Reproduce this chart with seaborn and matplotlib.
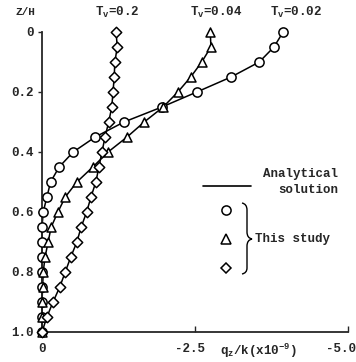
import numpy as np
import pandas as pd
import matplotlib
matplotlib.use("Agg")
import matplotlib.pyplot as plt
import matplotlib.transforms as mtransforms
import seaborn as sns
from matplotlib.path import Path
from matplotlib.patches import PathPatch

# ---- data ----
z_levels = [0.00, 0.05, 0.10, 0.15, 0.20, 0.25, 0.30, 0.35, 0.40, 0.45, 0.50,
            0.55, 0.60, 0.65, 0.70, 0.75, 0.80, 0.85, 0.90, 0.95, 1.00]
q_tv002 = [-3.94, -3.79, -3.55, -3.09, -2.53, -1.96, -1.34, -0.87, -0.51, -0.28, -0.14,
           -0.08, -0.02, 0.00, 0.00, 0.00, 0.00, 0.00, 0.00, 0.00, 0.00]
q_tv004 = [-2.75, -2.76, -2.61, -2.43, -2.22, -1.98, -1.67, -1.39, -1.08, -0.83, -0.57,
           -0.38, -0.26, -0.15, -0.10, -0.05, -0.02, -0.01, 0.00, 0.00, 0.00]
q_tv02 = [-1.21, -1.23, -1.19, -1.18, -1.16, -1.14, -1.09, -1.03, -0.98, -0.93, -0.88,
          -0.80, -0.73, -0.64, -0.57, -0.47, -0.38, -0.29, -0.18, -0.08, 0.00]
series_labels = ["T$_\\mathregular{v}$=0.02", "T$_\\mathregular{v}$=0.04", "T$_\\mathregular{v}$=0.2"]
x_ticks = [0, -2.5, -5.0]
x_tick_labels = ["0", "-2.5", "-5.0"]
y_ticks = [0, 0.2, 0.4, 0.6, 0.8, 1.0]
y_tick_labels = ["0", "0.2", "0.4", "0.6", "0.8", "1.0"]

sns.set_style("ticks")
plt.rcParams["font.family"] = ["Liberation Mono", "DejaVu Sans Mono"]
plt.rcParams["font.weight"] = "bold"
plt.rcParams["mathtext.default"] = "regular"

W, H = 356, 362
fig = plt.figure(figsize=(W / 100, H / 100), dpi=100)
ax = fig.add_axes([42 / W, 1 - 332 / H, (348 - 42) / W, (332 - 32) / H])

df = pd.DataFrame({
    "z": z_levels * 3,
    "q": q_tv002 + q_tv004 + q_tv02,
    "series": ["0.02"] * 21 + ["0.04"] * 21 + ["0.2"] * 21,
})
markers = {"0.02": "o", "0.04": "^", "0.2": "D"}
msize = {"0.02": 44, "0.04": 42, "0.2": 28}

for s, g in df.groupby("series", sort=False):
    sns.lineplot(data=g, x="q", y="z", sort=False, estimator=None, color="black",
                 lw=1.1, ax=ax, legend=False)
    sns.scatterplot(data=g, x="q", y="z", marker=markers[s], s=msize[s],
                    facecolor="white", edgecolor="black", linewidth=1.1,
                    ax=ax, legend=False, zorder=3)
for c in ax.collections + ax.lines:
    c.set_clip_on(False)

ax.set_xlim(0, -5.0)
ax.set_ylim(1.0, 0)
ax.set_xticks(x_ticks)
ax.set_xticklabels(x_tick_labels, fontsize=9, fontweight="bold")
ax.set_yticks(y_ticks)
ax.set_yticklabels(y_tick_labels, fontsize=9, fontweight="bold")
ax.tick_params(axis="x", direction="in", length=4, pad=8, width=1)
ax.tick_params(axis="y", direction="out", length=3, pad=3, width=1)
ax.set_xlabel("")
ax.set_ylabel("")
sns.despine(ax=ax)
for sp in ["left", "bottom"]:
    ax.spines[sp].set_linewidth(1.3)

# nudge the last x tick label so it stays inside the figure
lbls = ax.get_xticklabels()
lbls[-1].set_transform(lbls[-1].get_transform() +
                       mtransforms.ScaledTranslation(-7 / 100, 0, fig.dpi_scale_trans))
lbls[1].set_transform(lbls[1].get_transform() +
                      mtransforms.ScaledTranslation(-5 / 100, 0, fig.dpi_scale_trans))


def fx(px):
    return px / W


def fy(py):
    return 1 - py / H


fig.text(fx(16), fy(12), "Z/H", fontsize=8, fontweight="bold", va="center")
fig.text(fx(95), fy(12), series_labels[2], fontsize=9, fontweight="bold", va="center")
fig.text(fx(190), fy(12), series_labels[1], fontsize=9, fontweight="bold", va="center")
fig.text(fx(270), fy(12), series_labels[0], fontsize=9, fontweight="bold", va="center")
fig.text(fx(258), fy(351), "q$_\\mathregular{z}$/k(x10$^\\mathregular{-9}$)", fontsize=9,
         fontweight="bold", ha="center", va="center")

# legend
fig.add_artist(plt.Line2D([fx(203), fx(251)], [fy(186), fy(186)], color="black", lw=1.2))
fig.text(fx(338), fy(174), "Analytical", fontsize=9, fontweight="bold", ha="right", va="center")
fig.text(fx(338), fy(190), "solution", fontsize=9, fontweight="bold", ha="right", va="center")
for (py, m, sz) in [(210, "o", 6.6), (239, "^", 6.5), (268, "D", 5.2)]:
    fig.add_artist(plt.Line2D([fx(226)], [fy(py)], marker=m, markersize=sz, color="black",
                              markerfacecolor="white", markeredgewidth=1.1, lw=0))
verts = [(242, 203), (247, 204), (247, 210), (247, 216),
         (247, 232), (247, 238), (252, 239),
         (247, 240), (247, 246), (247, 262),
         (247, 268), (247, 273), (242, 274)]
verts_f = [(fx(a), fy(b)) for a, b in verts]
codes = [Path.MOVETO, Path.CURVE3, Path.CURVE3, Path.LINETO,
         Path.LINETO, Path.CURVE3, Path.CURVE3,
         Path.CURVE3, Path.CURVE3, Path.LINETO,
         Path.LINETO, Path.CURVE3, Path.CURVE3]
fig.add_artist(PathPatch(Path(verts_f, codes), transform=fig.transFigure, fill=False,
                         lw=1.0, edgecolor="black"))
fig.text(fx(255), fy(239), "This study", fontsize=9, fontweight="bold", ha="left", va="center")

fig.savefig("out.png", dpi=100)
